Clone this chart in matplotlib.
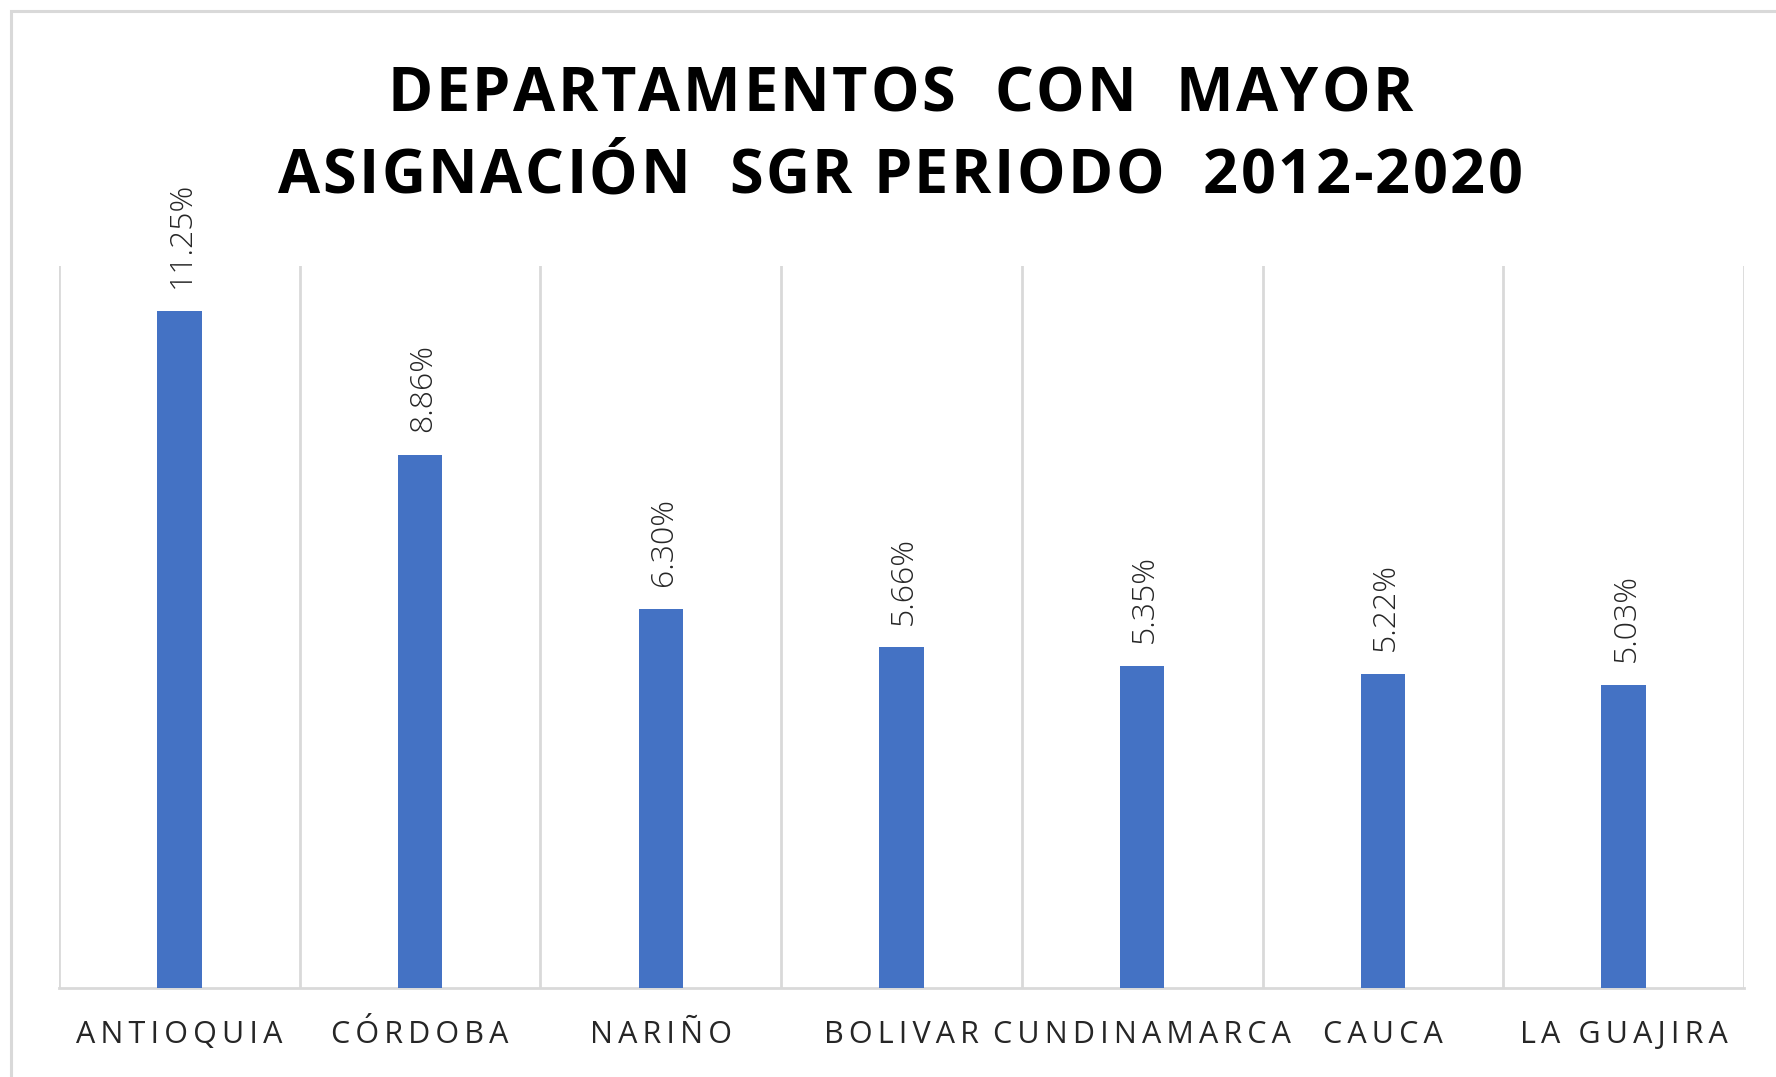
import matplotlib
matplotlib.use("Agg")
import matplotlib.pyplot as plt
from matplotlib.patches import Rectangle
from matplotlib.font_manager import FontProperties

departamentos = ["ANTIOQUIA", "CÓRDOBA", "NARIÑO", "BOLIVAR", "CUNDINAMARCA", "CAUCA", "LA GUAJIRA"]
porcentajes = [11.25, 8.86, 6.30, 5.66, 5.35, 5.22, 5.03]
etiquetas = ["11.25%", "8.86%", "6.30%", "5.66%", "5.35%", "5.22%", "5.03%"]
titulo_lineas = ["DEPARTAMENTOS  CON  MAYOR", "ASIGNACIÓN  SGR PERIODO  2012-2020"]

W, H = 1776, 1077
fig = plt.figure(figsize=(W / 100, H / 100), dpi=100)
fig.patch.set_facecolor("white")

FAM = ["Open Sans", "DejaVu Sans"]

# outer chart frame (only top and left visible in the crop)
fig.patches.append(Rectangle((11 / W, -0.05), 1.2, 1 - 11 / H + 0.05, transform=fig.transFigure,
                             fill=False, edgecolor="#d9d9d9", linewidth=2.2))

ax = fig.add_axes([59 / W, 1 - 988 / H, (1744 - 59) / W, (988 - 266) / H])
x = list(range(len(departamentos)))
ax.bar(x, porcentajes, width=0.185, color="#4472c4", zorder=3)
ax.set_xlim(-0.5, len(departamentos) - 0.5)
ax.set_ylim(0, 12)

for s in ["top", "right", "left"]:
    ax.spines[s].set_visible(False)
ax.spines["bottom"].set_color("#d9d9d9")
ax.spines["bottom"].set_linewidth(2)
ax.set_yticks([])

ax.set_xticks([i - 0.5 for i in range(len(departamentos) + 1)], minor=True)
ax.grid(True, which="minor", axis="x", color="#d9d9d9", linewidth=2, zorder=0)
ax.tick_params(axis="x", which="minor", length=0)
ax.tick_params(axis="x", which="major", length=0, pad=23)

spaced = ["\u2009".join(list(d)) for d in departamentos]
ax.set_xticks(x)
ax.set_xticklabels(spaced, fontsize=22, color="#262626", fontfamily=FAM)

for xi, v, t in zip(x, porcentajes, etiquetas):
    ax.annotate(t, (xi, v), xytext=(2, 16.5), textcoords="offset points",
                rotation=90, ha="center", va="bottom", fontsize=23,
                color="#262626", fontfamily=FAM, fontweight="light")


# title with letter spacing (character tracking)
def spaced_line(text, xc_px, baseline_px, prop, tracking_px):
    renderer = fig.canvas.get_renderer()
    widths = [renderer.get_text_width_height_descent(c, prop, ismath=False)[0] for c in text]
    total = sum(widths) + tracking_px * (len(text) - 1)
    xpos = xc_px - total / 2
    for c, w in zip(text, widths):
        if c != " ":
            fig.text(xpos / W, 1 - baseline_px / H, c, fontproperties=prop,
                     ha="left", va="baseline", color="black")
        xpos += w + tracking_px


tprop = FontProperties(family=FAM, weight="bold", size=44)
spaced_line(titulo_lineas[0], 900, 111, tprop, 2.5)
spaced_line(titulo_lineas[1], 900, 193, tprop, 2.5)

fig.savefig("out.png", dpi=100, facecolor="white")
